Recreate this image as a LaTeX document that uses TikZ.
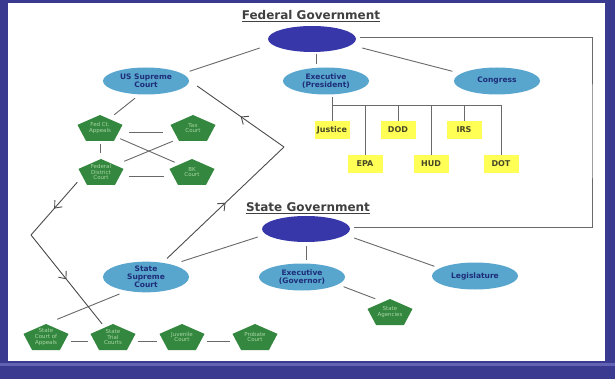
\documentclass[tikz,border=0pt]{standalone}
\usepackage{fontspec}
\setmainfont{DejaVu Sans}
\usetikzlibrary{arrows.meta,calc,shapes.geometric,decorations.markings}

\definecolor{frameblue}{RGB}{58,58,145}
\definecolor{frameline}{RGB}{98,98,178}
\definecolor{govblue}{RGB}{55,55,170}
\definecolor{branchblue}{RGB}{88,165,205}
\definecolor{branchtext}{RGB}{30,45,120}
\definecolor{agencyyellow}{RGB}{255,255,85}
\definecolor{agencytext}{RGB}{70,70,40}
\definecolor{courtgreen}{RGB}{52,135,62}
\definecolor{courttext}{RGB}{170,215,165}
\definecolor{linkgray}{RGB}{105,105,105}

\begin{document}
\begin{tikzpicture}[
  x=1pt, y=-1pt,
  heading/.style={font=\fontsize{12}{14}\selectfont\bfseries, text=black!75},
  gov/.style={ellipse, fill=govblue, minimum width=88pt, minimum height=26pt},
  branch/.style={ellipse, fill=branchblue, text=branchtext,
                 minimum width=86pt, minimum height=27pt, inner sep=0pt,
                 align=center, font=\fontsize{7.5}{8}\selectfont\bfseries},
  agency/.style={fill=agencyyellow, text=agencytext,
                 minimum width=35pt, minimum height=18pt, inner sep=1pt,
                 font=\fontsize{8}{9}\selectfont\bfseries},
  court/.style={minimum width=45pt, minimum height=26pt, inner sep=0pt,
                align=center, text=courttext, font=\fontsize{5.5}{5.8}\selectfont,
                path picture={
                  \fill[courtgreen] (path picture bounding box.north)
                    -- ($(path picture bounding box.north east)!0.38!(path picture bounding box.south east)$)
                    -- ($(path picture bounding box.south)!0.62!(path picture bounding box.south east)$)
                    -- ($(path picture bounding box.south)!0.62!(path picture bounding box.south west)$)
                    -- ($(path picture bounding box.north west)!0.38!(path picture bounding box.south west)$)
                    -- cycle;}},
  link/.style={draw=linkgray, line width=0.9pt},
  appeal/.style={draw=black!70, line width=0.9pt, postaction={decorate},
                 decoration={markings, mark=at position 0.5 with
                   {\arrow{Straight Barb[length=6pt,width=10pt]}}}},
]

  \useasboundingbox (0,0) rectangle (615,379);

  % Frame
  \fill[frameblue] (0,0) rectangle (615,379);
  \fill[frameline] (0,363) rectangle (615,366);
  \fill[white] (8,3) rectangle (605,361);

  \coordinate (rail)  at (592,130);
  \coordinate (bus)   at (0,105);
  \coordinate (kinkR) at (284,147);
  \coordinate (kinkL) at (31,235);

  % Federal level

  \node[heading] (fedtitle) at (311,16) {\underline{Federal Government}};
  \node[gov] (fedgov) at (312,39) {};

  \node[branch] (usc)      at (146,81) {US Supreme\\Court};
  \node[branch] (pres)     at (326,81) {Executive\\(President)};
  \node[branch] (congress) at (497,81) {Congress};

  \node[agency] (justice) at (332,130) {Justice};
  \node[agency] (dod)     at (398,130) {DOD};
  \node[agency] (irs)     at (464,130) {IRS};
  \node[agency] (epa)     at (365,164) {EPA};
  \node[agency] (hud)     at (431,164) {HUD};
  \node[agency] (dot)     at (501,164) {DOT};

  \node[court] (fca) at (100,128) {Fed Ct.\\Appeals};
  \node[court] (tax) at (193,128) {Tax\\Court};
  \node[court] (fdc) at (101,172) {Federal\\District\\Court};
  \node[court] (bk)  at (192,172) {BK\\Court};

  % State level

  \node[heading] (statetitle) at (308,208) {\underline{State Government}};
  \node[gov] (stategov) at (306,229) {};

  \node[branch] (ssc)      at (146,277) {State\\Supreme\\Court};
  \node[branch] (governor) at (302,277) {Executive\\(Governor)};
  \node[branch] (legis)    at (475,276) {Legislature};

  \node[court] (agencies) at (390,312) {State\\Agencies};

  \node[court] (sca)      at (46,337)  {State\\Court of\\Appeals};
  \node[court] (trial)    at (113,337) {State\\Trial\\Courts};
  \node[court] (juvenile) at (182,337) {Juvenile\\Court};
  \node[court] (probate)  at (255,337) {Probate\\Court};

  % Links -- federal

  \draw[link] ([shift={(-8pt,-9pt)}]fedgov.west) -- ([xshift=13pt]usc.north east);
  \draw[link] ([shift={(4pt,-2pt)}]fedgov.south) -- ([shift={(4pt,3pt)}]fedgov.south |- pres.north);
  \draw[link] ([shift={(6pt,-9pt)}]fedgov.east) -- ([xshift=-14pt]congress.north west);

  % federal -> state
  \draw[link] ([shift={(4pt,2pt)}]fedgov.east) -| (rail) |- ([shift={(4pt,2pt)}]stategov.east);

  % executive departments
  \draw[link] ([yshift=-2pt]pres.south -| justice) -- (justice.north);
  \draw[link] (bus -| justice) -- (bus -| dot);
  \foreach \a in {epa,dod,hud,irs,dot}
    \draw[link] (bus -| \a) -- (\a.north);

  % federal courts
  \draw[link] ([shift={(-11pt,-3.5pt)}]usc.south) -- ([xshift=-8.5pt]fca.north east);
  \draw[link] ([shift={(6.5pt,-4pt)}]fca.east) -- ([shift={(-7.5pt,-4pt)}]tax.west);
  \draw[link] ([yshift=-2.5pt]fca.south) -- ([yshift=5.5pt]fca.south |- fdc.north);
  \draw[link] ([shift={(-2.5pt,2.5pt)}]fca.south east) -- ([shift={(5.5pt,-3.5pt)}]bk.north west);
  \draw[link] ([shift={(2.5pt,0pt)}]tax.south west) -- ([shift={(0.5pt,-2.5pt)}]fdc.north east);
  \draw[link] ([shift={(5.5pt,-4pt)}]fdc.east) -- ([shift={(-5.5pt,-4pt)}]bk.west);

  % Links -- state

  \draw[link] ([shift={(-4pt,-8pt)}]stategov.west) -- ([shift={(5pt,4.5pt)}]ssc.north east);
  \draw[link] ([yshift=-4pt]stategov.south) -- ([yshift=3pt]stategov.south |- governor.north);
  \draw[link] ([shift={(4pt,-9pt)}]stategov.east) -- ([xshift=-10pt]legis.north west);
  \draw[link] ([xshift=11pt]governor.south east) -- ([xshift=8pt]agencies.north west);

  % state courts
  \draw[link] ([shift={(4pt,-6pt)}]ssc.south west) -- ([shift={(-11.5pt,4.5pt)}]sca.north east);
  \foreach \a/\b in {sca/trial,trial/juvenile,juvenile/probate}
    \draw[link] ([shift={(2pt,-4pt)}]\a.east) -- ([shift={(-2pt,-4pt)}]\b.west);

  % Appeals between the two systems
  \draw[appeal] ([shift={(21pt,3pt)}]ssc.north) -- (kinkR);
  \draw[appeal] (kinkR) -- ([shift={(8pt,-5pt)}]usc.east);
  \draw[appeal] ([shift={(-1pt,3pt)}]fdc.south west) -- (kinkL);
  \draw[appeal] (kinkL) -- ([xshift=-11pt]trial.north);

\end{tikzpicture}
\end{document}
